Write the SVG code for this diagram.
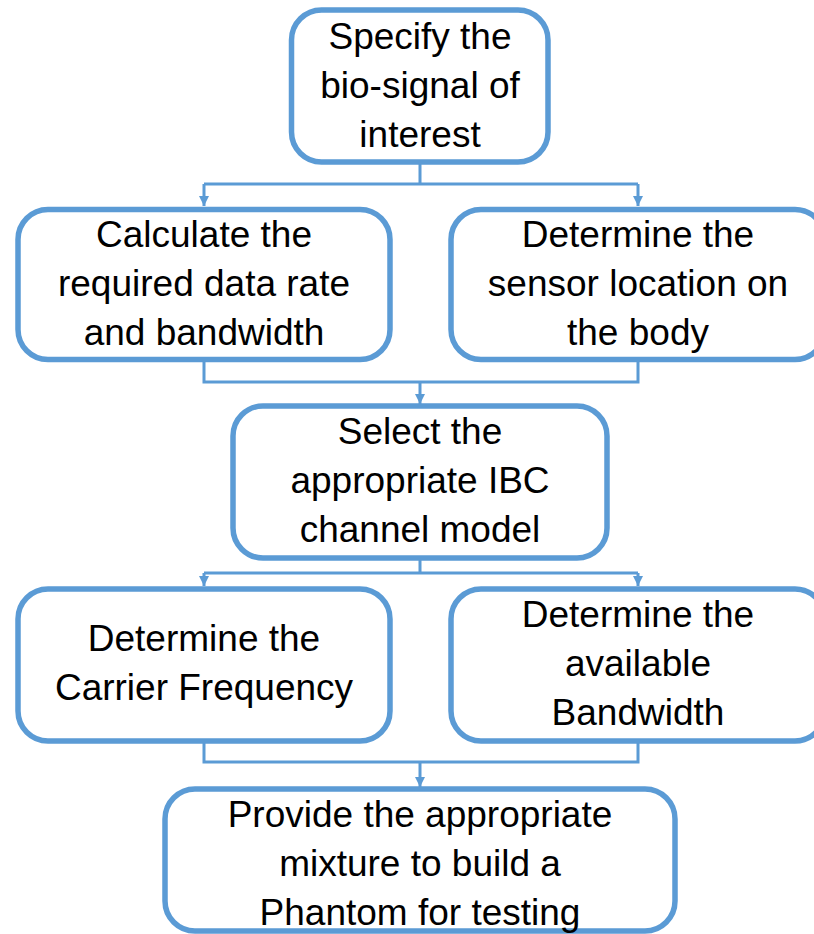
<svg xmlns="http://www.w3.org/2000/svg" width="814" height="934" viewBox="0 0 814 934">
<defs>
<marker id="arrow" viewBox="0 0 10 10" refX="10" refY="5" markerWidth="10" markerHeight="11" markerUnits="userSpaceOnUse" orient="auto">
<path d="M0,0 L10,5 L0,10 z" fill="#5B9BD5"/>
</marker>
<style>
.box{fill:#fff;stroke:#5B9BD5;stroke-width:5.5}
.lbl{font-family:"Liberation Sans",Arial,sans-serif;font-size:37px;fill:#000;text-anchor:middle}
.con{fill:none;stroke:#5B9BD5;stroke-width:3}
</style>
</defs>
<rect width="814" height="934" fill="#fff"/>
<g id="connectors">
<path class="con" d="M420,162 V184 M204,184 H638"/>
<path class="con" d="M204,184 V206" marker-end="url(#arrow)"/>
<path class="con" d="M638,184 V206" marker-end="url(#arrow)"/>
<path class="con" d="M204,359 V382 H638 V359"/>
<path class="con" d="M420,382 V404" marker-end="url(#arrow)"/>
<path class="con" d="M420,558 V573 M204,573 H638"/>
<path class="con" d="M204,573 V586" marker-end="url(#arrow)"/>
<path class="con" d="M638,573 V586" marker-end="url(#arrow)"/>
<path class="con" d="M204,741 V762 H638 V741"/>
<path class="con" d="M420,762 V787" marker-end="url(#arrow)"/>
</g>
<g id="n1">
<rect class="box" x="291.5" y="10" width="256.5" height="152" rx="30"/>
<text class="lbl" x="420" y="49">Specify the</text>
<text class="lbl" x="420" y="98">bio-signal of</text>
<text class="lbl" x="420" y="147">interest</text>
</g>
<g id="n2">
<rect class="box" x="18" y="209.5" width="372" height="150" rx="30"/>
<text class="lbl" x="204" y="247">Calculate the</text>
<text class="lbl" x="204" y="296">required data rate</text>
<text class="lbl" x="204" y="345">and bandwidth</text>
</g>
<g id="n3">
<rect class="box" x="451" y="209.5" width="374" height="150" rx="30"/>
<text class="lbl" x="638" y="247">Determine the</text>
<text class="lbl" x="638" y="296">sensor location on</text>
<text class="lbl" x="638" y="345">the body</text>
</g>
<g id="n4">
<rect class="box" x="233" y="406" width="374" height="152" rx="30"/>
<text class="lbl" x="420" y="444">Select the</text>
<text class="lbl" x="420" y="493">appropriate IBC</text>
<text class="lbl" x="420" y="542">channel model</text>
</g>
<g id="n5">
<rect class="box" x="18" y="589" width="372" height="152" rx="30"/>
<text class="lbl" x="204" y="651">Determine the</text>
<text class="lbl" x="204" y="700">Carrier Frequency</text>
</g>
<g id="n6">
<rect class="box" x="451" y="589" width="374" height="152" rx="30"/>
<text class="lbl" x="638" y="627">Determine the</text>
<text class="lbl" x="638" y="676">available</text>
<text class="lbl" x="638" y="725">Bandwidth</text>
</g>
<g id="n7">
<rect class="box" x="165" y="789" width="510" height="142" rx="30"/>
<text class="lbl" x="420" y="827">Provide the appropriate</text>
<text class="lbl" x="420" y="876">mixture to build a</text>
<text class="lbl" x="420" y="925">Phantom for testing</text>
</g>
</svg>
